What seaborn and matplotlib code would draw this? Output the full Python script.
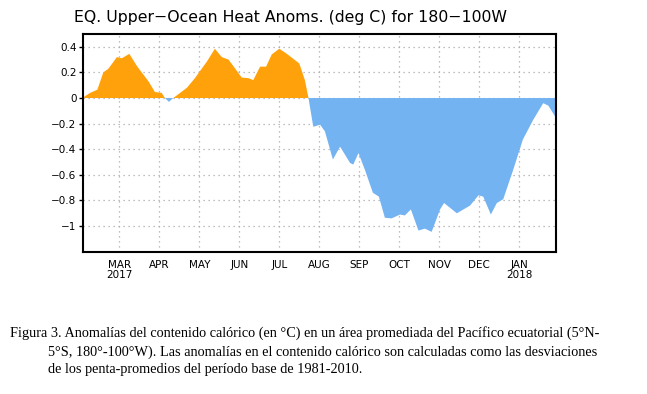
import numpy as np
import matplotlib
matplotlib.use('Agg')
import matplotlib.pyplot as plt
import seaborn as sns

# Posicion en meses (3 = MAR 2017, 13 = JAN 2018) y anomalias (deg C)
month_pos = [2.12, 2.27, 2.45, 2.60, 2.73, 2.94, 3.06, 3.25, 3.44, 3.73,
             3.89, 4.06, 4.14, 4.24, 4.35, 4.52, 4.69, 4.89, 5.19, 5.39,
             5.56, 5.73, 5.85, 6.06, 6.23, 6.35, 6.52, 6.67, 6.81, 7.00,
             7.19, 7.50, 7.64, 7.73, 7.85, 8.02, 8.14, 8.34, 8.52, 8.77,
             8.85, 8.98, 9.14, 9.34, 9.49, 9.64, 9.81, 10.02, 10.14, 10.29,
             10.48, 10.64, 10.81, 11.02, 11.12, 11.44, 11.77, 11.98, 12.10, 12.29,
             12.44, 12.60, 12.85, 13.09, 13.35, 13.60, 13.73, 13.92]
anomaly = [0.01, 0.04, 0.065, 0.20, 0.23, 0.32, 0.31, 0.345, 0.25, 0.13,
           0.047, 0.04, 0.0, -0.03, 0.0, 0.04, 0.08, 0.155, 0.285, 0.385,
           0.32, 0.30, 0.25, 0.16, 0.155, 0.14, 0.245, 0.245, 0.34, 0.385,
           0.345, 0.27, 0.14, 0.0, -0.225, -0.208, -0.26, -0.48, -0.38, -0.507,
           -0.52, -0.43, -0.56, -0.74, -0.77, -0.935, -0.94, -0.91, -0.917, -0.87,
           -1.035, -1.02, -1.045, -0.87, -0.82, -0.90, -0.84, -0.76, -0.77, -0.91,
           -0.82, -0.79, -0.56, -0.325, -0.17, -0.04, -0.06, -0.156]

month_ticks = [3, 4, 5, 6, 7, 8, 9, 10, 11, 12, 13]
month_labels = ['MAR\n2017', 'APR', 'MAY', 'JUN', 'JUL', 'AUG', 'SEP',
                'OCT', 'NOV', 'DEC', 'JAN\n2018']
y_ticks = [0.4, 0.2, 0, -0.2, -0.4, -0.6, -0.8, -1]
y_labels = ['0.4', '0.2', '0', '\u22120.2', '\u22120.4', '\u22120.6', '\u22120.8', '\u22121']

title = 'EQ. Upper\u2212Ocean Heat Anoms. (deg C) for 180\u2212100W'
caption = [
    'Figura 3. Anomalías del contenido calórico (en °C) en un área promediada del Pacífico ecuatorial (5°N-',
    '5°S, 180°-100°W). Las anomalías en el contenido calórico son calculadas como las desviaciones',
    'de los penta-promedios del período base de 1981-2010.',
]

sns.set_theme(style='white')
plt.rcParams['font.family'] = ['DejaVu Sans']

fig = plt.figure(figsize=(6.47, 3.94), dpi=100)
ax = fig.add_axes([0.1288, 0.3612, 0.7306, 0.5525])

x = np.array(month_pos)
y = np.array(anomaly)
ax.fill_between(x, y, 0, where=y >= 0, interpolate=True, color='#FFA10A', lw=0, zorder=2)
ax.fill_between(x, y, 0, where=y <= 0, interpolate=True, color='#74B3F2', lw=0, zorder=2)

ax.set_xlim(2.1, 13.92)
ax.set_ylim(-1.2, 0.5)
ax.set_xticks(month_ticks)
ax.set_xticklabels(month_labels, fontsize=7.5, linespacing=0.95, color='black')
ax.set_yticks(y_ticks)
ax.set_yticklabels(y_labels, fontsize=7.5, color='black')
ax.tick_params(axis='x', length=0, pad=6)
ax.tick_params(axis='y', length=3, width=1, direction='out', color='black', pad=2, left=True)
ax.grid(True, color='#aaaaaa', linestyle=(0, (1, 3)), linewidth=0.9, zorder=0)
ax.set_axisbelow(True)
for s in ax.spines.values():
    s.set_color('black')
    s.set_linewidth(1.5)

fig.text(291 / 647, 0.955, title, ha='center', va='center', fontsize=11.3,
         fontweight='medium', color='black')

caption_font = ['Liberation Serif', 'DejaVu Serif']
fig.text(10 / 647, 1 - 333 / 394, caption[0], fontsize=10.25, family=caption_font,
         va='center', color='black')
fig.text(48 / 647, 1 - 352 / 394, caption[1], fontsize=10.25, family=caption_font,
         va='center', color='black')
fig.text(48 / 647, 1 - 369 / 394, caption[2], fontsize=10.25, family=caption_font,
         va='center', color='black')

fig.savefig('out.png', dpi=100)
